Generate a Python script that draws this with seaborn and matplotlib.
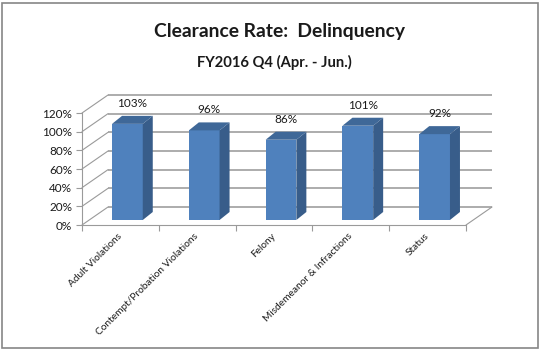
import matplotlib
matplotlib.use("Agg")
import matplotlib.pyplot as plt
import seaborn as sns
import pandas as pd
from matplotlib.patches import Polygon, Rectangle

categories = ["Adult Violations", "Contempt/Probation Violations", "Felony",
              "Misdemeanor & Infractions", "Status"]
clearance_pct = [103, 96, 86, 101, 92]
y_ticks = [0, 20, 40, 60, 80, 100, 120]

sns.set_theme(style="white")
plt.rcParams["font.family"] = ["Lato", "DejaVu Sans"]

W, H = 541, 349
fig = plt.figure(figsize=(W / 100, H / 100), dpi=100)
fig.patch.set_facecolor("white")

# front plane of the pseudo-3D box, in pixels
left_px, right_px, base_px, top_px = 82, 466, 225, 113
ax = fig.add_axes([left_px / W, (H - base_px) / H,
                   (right_px - left_px) / W, (base_px - top_px) / H])

df = pd.DataFrame({"category": categories, "rate": clearance_pct})
sns.barplot(data=df, x="category", y="rate", color="#4F81BD", saturation=1,
            width=0.40, ax=ax, zorder=3, linewidth=0)

ax.set_xlim(-0.5, len(categories) - 0.5)
ax.set_ylim(0, 120)
px_x = len(categories) / (right_px - left_px)   # data units per pixel
px_y = 120 / (base_px - top_px)

grid_c = "#A6A6A6"
wall_c = "#9A9A9A"

# depth offsets
back_dx, back_dy = 26 * px_x, 18 * px_y
bar_sx, bar_sy = 7 * px_x, 5 * px_y
depth_dx, depth_dy = 10 * px_x, 8 * px_y

x0, x1 = -0.5, len(categories) - 0.5
for v in y_ticks:
    ax.plot([x0 + back_dx, x1 + back_dx], [v + back_dy] * 2, color=grid_c,
            lw=1.3, clip_on=False, zorder=1, solid_capstyle="butt")
    ax.plot([x0, x0 + back_dx], [v, v + back_dy], color=wall_c, lw=0.8,
            clip_on=False, zorder=1)
ax.plot([x1, x1 + back_dx], [0, back_dy], color=wall_c, lw=0.8,
        clip_on=False, zorder=1)

# extrude each bar: shift the face back a little, then add side and top
for p, v in zip(ax.patches, clearance_pct):
    p.set_x(p.get_x() + bar_sx)
    p.set_y(bar_sy)
    bx0 = p.get_x()
    bx1 = bx0 + p.get_width()
    yb = p.get_y()
    yt = yb + p.get_height()
    side = Polygon([(bx1, yb), (bx1 + depth_dx, yb + depth_dy),
                    (bx1 + depth_dx, yt + depth_dy), (bx1, yt)],
                   closed=True, fc="#385D8A", ec="none", zorder=3, clip_on=False)
    top = Polygon([(bx0, yt), (bx0 + depth_dx, yt + depth_dy),
                   (bx1 + depth_dx, yt + depth_dy), (bx1, yt)],
                  closed=True, fc="#3F6898", ec="none", zorder=3, clip_on=False)
    ax.add_patch(side)
    ax.add_patch(top)
    ax.annotate(f"{v}%", xy=(bx0 + p.get_width() / 2 + depth_dx / 2, yt + depth_dy),
                xytext=(0, 7), textcoords="offset pixels", ha="center",
                va="bottom", fontsize=8.5, color="#1A1A1A", annotation_clip=False)

for s in ["top", "right"]:
    ax.spines[s].set_visible(False)
for s in ["left", "bottom"]:
    ax.spines[s].set_color(wall_c)
    ax.spines[s].set_linewidth(0.8)

ax.set_yticks(y_ticks)
ax.set_yticklabels([f"{v}%" for v in y_ticks])
ax.tick_params(axis="y", length=4, width=0.8, color=wall_c, labelsize=8.5,
               pad=3, labelcolor="#1A1A1A", left=True)
ax.set_xticks(range(len(categories)))
ax.set_xticklabels(categories, rotation=45, ha="right", va="center",
                   rotation_mode="anchor")
ax.set_xticks([i - 0.5 for i in range(len(categories) + 1)], minor=True)
ax.tick_params(axis="x", which="major", length=0, labelsize=7.3, pad=7,
               labelcolor="#1A1A1A")
ax.tick_params(axis="x", which="minor", length=4, width=0.8, color=wall_c,
               bottom=True)
ax.set_xlabel("")
ax.set_ylabel("")

fig.text(280 / W, 1 - 32 / H, "Clearance Rate:  Delinquency", ha="center",
         va="center", fontsize=13.9, fontweight="bold", color="#1A1A1A")
fig.text(274 / W, 1 - 62 / H, "FY2016 Q4 (Apr. - Jun.)", ha="center",
         va="center", fontsize=10.6, fontweight="bold", color="#1A1A1A")

fig.add_artist(Rectangle((1.5 / W, 1.5 / H), 536.5 / W, 345 / H,
                         transform=fig.transFigure, fill=False,
                         ec="#868686", lw=1.2))

fig.savefig("out.png", dpi=100)
